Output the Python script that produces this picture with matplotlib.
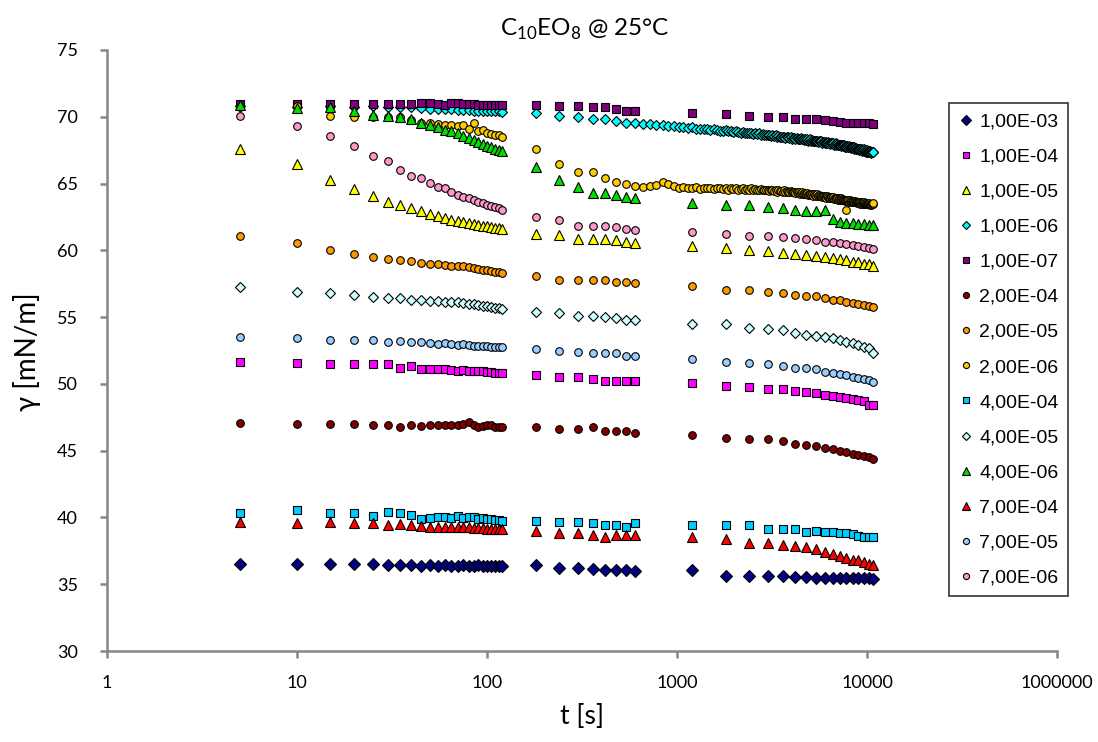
import matplotlib
matplotlib.use("Agg")
import matplotlib.pyplot as plt
from matplotlib.ticker import FixedLocator, FixedFormatter, NullLocator

plt.rcParams["mathtext.fontset"] = "custom"
plt.rcParams["mathtext.rm"] = "Lato"

# measurement times [s]
t_fast = list(range(5, 125, 5))           # every 5 s up to 2 min
t_mid = list(range(180, 660, 60))         # every minute up to 10 min
t_slow = list(range(1200, 11400, 600))    # every 10 min up to 3 h
t_dense = list(range(540, 10860, 60))     # continuous logging runs

# surface tension [mN/m]
g_1e3 = [36.5, 36.5, 36.5, 36.5, 36.5, 36.45, 36.45, 36.45, 36.4, 36.45, 36.4, 36.45,
         36.4, 36.4, 36.45, 36.4, 36.4, 36.45, 36.4, 36.4, 36.4, 36.4, 36.4, 36.4,
         36.45, 36.2, 36.2, 36.15, 36.1, 36.1, 36.05, 36.0,
         36.05, 35.65, 35.65, 35.6, 35.6, 35.55, 35.55, 35.5, 35.5, 35.5, 35.5, 35.45,
         35.5, 35.45, 35.45, 35.5, 35.4]
g_1e4 = [51.65, 51.6, 51.5, 51.5, 51.5, 51.5, 51.2, 51.35, 51.1, 51.15, 51.1, 51.1,
         51.05, 51.0, 51.05, 51.0, 51.0, 50.95, 50.95, 50.9, 50.9, 50.8, 50.8, 50.8,
         50.7, 50.55, 50.55, 50.35, 50.25, 50.25, 50.25, 50.25,
         50.1, 49.85, 49.8, 49.6, 49.6, 49.5, 49.4, 49.3, 49.2, 49.1, 49.0, 48.95,
         48.9, 48.8, 48.7, 48.45, 48.4]
g_1e5 = [67.6, 66.45, 65.3, 64.6, 64.1, 63.6, 63.4, 63.2, 62.95, 62.75, 62.55, 62.45,
         62.3, 62.2, 62.15, 62.05, 62.0, 61.9, 61.85, 61.8, 61.75, 61.7, 61.65, 61.6,
         61.2, 61.15, 60.85, 60.85, 60.85, 60.8, 60.6, 60.55,
         60.3, 60.15, 60.05, 59.95, 59.8, 59.75, 59.65, 59.6, 59.5, 59.45, 59.35, 59.3,
         59.15, 59.1, 59.0, 58.95, 58.85]
g_1e6 = [70.8, 70.75, 70.8, 70.75, 70.8, 70.75, 70.7, 70.7, 70.65, 70.6, 70.6, 70.55,
         70.55, 70.5, 70.5, 70.5, 70.45, 70.45, 70.45, 70.4, 70.4, 70.4, 70.4, 70.35,
         70.25, 70.05, 69.95, 69.8, 69.8, 69.7,
         69.55, 69.5, 69.45, 69.45, 69.35, 69.4, 69.3, 69.3, 69.2, 69.2,
         69.15, 69.2, 69.1, 69.1, 69.05, 69.1, 69.0, 69.05, 69.0, 68.95,
         68.95, 69.0, 68.9, 68.95, 68.85, 68.9, 68.85, 68.8, 68.85, 68.8,
         68.8, 68.75, 68.8, 68.7, 68.75, 68.7, 68.75, 68.65, 68.7, 68.65,
         68.65, 68.6, 68.65, 68.55, 68.6, 68.55, 68.6, 68.5, 68.55, 68.5,
         68.5, 68.45, 68.5, 68.4, 68.45, 68.5, 68.4, 68.45, 68.35, 68.4,
         68.4, 68.35, 68.4, 68.3, 68.35, 68.3, 68.4, 68.3, 68.35, 68.25,
         68.3, 68.25, 68.3, 68.2, 68.25, 68.3, 68.2, 68.25, 68.15, 68.2,
         68.2, 68.15, 68.2, 68.1, 68.2, 68.15, 68.1, 68.15, 68.05, 68.1,
         68.1, 68.05, 68.1, 68.0, 68.05, 68.1, 68.0, 68.05, 67.95, 68.0,
         68.0, 67.95, 68.0, 67.9, 67.95, 68.0, 67.9, 67.95, 67.85, 67.9,
         67.9, 67.85, 67.9, 67.8, 67.85, 67.9, 67.8, 67.85, 67.75, 67.8,
         67.8, 67.75, 67.8, 67.7, 67.75, 67.8, 67.7, 67.75, 67.65, 67.7,
         67.7, 67.65, 67.7, 67.6, 67.7, 67.65, 67.6, 67.65, 67.55, 67.6,
         67.6, 67.55, 67.6, 67.5, 67.55, 67.6, 67.5, 67.55, 67.45, 67.5,
         67.5, 67.45, 67.55, 67.45, 67.5, 67.4, 67.45, 67.5, 67.4, 67.45,
         67.4, 67.45, 67.35, 67.4, 67.45, 67.35, 67.4, 67.3, 67.35, 67.4,
         67.35, 67.4]
g_1e7 = [70.95, 70.95, 70.95, 70.95, 70.95, 70.95, 70.95, 70.95, 71.05, 71.0, 70.95, 70.9,
         71.05, 71.0, 70.95, 70.95, 70.95, 70.9, 70.9, 70.9, 70.9, 70.9, 70.9, 70.9,
         70.85, 70.8, 70.8, 70.7, 70.7, 70.6, 70.45, 70.45,
         70.25, 70.2, 70.05, 69.95, 69.95, 69.8, 69.8, 69.8, 69.75, 69.7, 69.6, 69.55,
         69.55, 69.5, 69.5, 69.5, 69.45]
g_2e4 = [47.1, 47.0, 47.0, 47.0, 46.95, 46.95, 46.75, 46.9, 46.85, 46.95, 46.9, 46.95,
         46.9, 46.9, 47.0, 47.15, 46.9, 46.75, 46.85, 46.9, 46.95, 46.8, 46.75, 46.75,
         46.8, 46.6, 46.6, 46.75, 46.45, 46.45, 46.45, 46.35,
         46.2, 45.95, 45.85, 45.85, 45.7, 45.5, 45.45, 45.35, 45.2, 45.1, 44.95, 44.9,
         44.75, 44.7, 44.6, 44.5, 44.4]
g_2e5 = [61.05, 60.55, 60.0, 59.75, 59.5, 59.35, 59.3, 59.2, 59.05, 58.95, 58.95, 58.9,
         58.85, 58.85, 58.8, 58.75, 58.7, 58.6, 58.55, 58.5, 58.45, 58.4, 58.35, 58.3,
         58.1, 57.8, 57.8, 57.75, 57.75, 57.6, 57.6, 57.55,
         57.35, 57.0, 57.0, 56.9, 56.8, 56.65, 56.6, 56.55, 56.45, 56.3, 56.25, 56.1,
         56.05, 56.0, 55.9, 55.85, 55.75]
g_2e6 = [70.7, 70.8, 70.05, 70.0, 70.0, 70.0, 69.95, 69.75, 69.5, 69.55, 69.45, 69.4,
         69.4, 69.3, 69.4, 69.1, 69.5, 68.95, 69.0, 68.8, 68.7, 68.65, 68.6, 68.5,
         67.6, 66.45, 65.85, 65.85, 65.4, 65.1,
         65.0, 64.8, 64.75, 64.8, 64.9, 65.1, 64.95, 64.8, 64.7, 64.75,
         64.7, 64.65, 64.75, 64.6, 64.7, 64.65, 64.7, 64.6, 64.65, 64.7,
         64.6, 64.65, 64.55, 64.65, 64.6, 64.7, 64.55, 64.6, 64.65, 64.55,
         64.6, 64.55, 64.65, 64.5, 64.6, 64.55, 64.5, 64.6, 64.5, 64.55,
         64.5, 64.55, 64.45, 64.5, 64.55, 64.45, 64.5, 64.4, 64.5, 64.45,
         64.45, 64.4, 64.5, 64.4, 64.45, 64.35, 64.4, 64.45, 64.35, 64.4,
         64.35, 64.3, 64.4, 64.3, 64.35, 64.25, 64.3, 64.35, 64.25, 64.3,
         64.25, 64.2, 64.3, 64.15, 64.25, 64.2, 64.15, 64.2, 64.1, 64.2,
         64.15, 64.1, 64.2, 64.05, 64.15, 64.1, 64.05, 64.1, 64.0, 64.1,
         64.05, 64.0, 64.1, 63.95, 64.05, 64.0, 63.95, 64.0, 63.9, 64.0,
         63.95, 63.9, 64.0, 63.85, 63.95, 63.9, 63.85, 63.9, 63.8, 63.9,
         63.85, 63.8, 63.9, 63.75, 63.85, 63.8, 63.75, 63.8, 63.7, 63.8,
         63.75, 63.0, 63.8, 63.7, 63.75, 63.65, 63.7, 63.75, 63.65, 63.7,
         63.7, 63.65, 63.7, 63.6, 63.65, 63.7, 63.6, 63.65, 63.55, 63.6,
         63.6, 63.65, 63.55, 63.6, 63.5, 63.6, 63.55, 63.6, 63.5, 63.55,
         63.55, 63.5, 63.6, 63.5, 63.55, 63.45, 63.55, 63.5, 63.45, 63.5,
         63.5, 63.45, 63.55, 63.4, 63.5, 63.45, 63.5, 63.4, 63.5, 63.45,
         63.5, 63.55]
g_4e4 = [40.3, 40.55, 40.35, 40.35, 40.1, 40.4, 40.35, 40.2, 39.9, 39.95, 40.0, 40.05,
         39.95, 40.1, 39.95, 40.0, 40.05, 39.9, 39.95, 39.85, 39.85, 39.8, 39.8, 39.75,
         39.75, 39.65, 39.65, 39.6, 39.45, 39.45, 39.3, 39.6,
         39.45, 39.45, 39.45, 39.15, 39.15, 39.15, 38.9, 38.95, 38.9, 38.9, 38.8, 38.8,
         38.75, 38.6, 38.5, 38.5, 38.55]
g_4e5 = [57.25, 56.9, 56.8, 56.65, 56.5, 56.45, 56.4, 56.3, 56.3, 56.2, 56.2, 56.15,
         56.1, 56.1, 56.05, 56.0, 55.95, 55.9, 55.85, 55.8, 55.75, 55.7, 55.65, 55.6,
         55.4, 55.3, 55.1, 55.1, 55.0, 54.95, 54.8, 54.8,
         54.5, 54.5, 54.2, 54.1, 54.05, 53.8, 53.65, 53.6, 53.5, 53.45, 53.3, 53.15,
         53.05, 52.9, 52.75, 52.65, 52.3]
g_4e6 = [70.9, 70.65, 70.75, 70.4, 70.15, 70.05, 70.0, 69.8, 69.5, 69.4, 69.25, 69.0,
         68.9, 68.8, 68.55, 68.4, 68.25, 68.1, 67.95, 67.8, 67.7, 67.6, 67.5, 67.45,
         66.25, 65.25, 64.75, 64.3, 64.3, 64.15, 64.0, 63.9,
         63.55, 63.4, 63.4, 63.25, 63.2, 63.0, 62.95, 62.95, 63.0, 62.35, 62.1, 62.05,
         62.05, 62.0, 62.0, 61.9, 61.9]
g_7e4 = [39.65, 39.6, 39.65, 39.6, 39.6, 39.45, 39.5, 39.45, 39.35, 39.3, 39.3, 39.3,
         39.3, 39.25, 39.25, 39.25, 39.2, 39.2, 39.2, 39.15, 39.15, 39.15, 39.1, 39.1,
         38.95, 38.85, 38.85, 38.7, 38.55, 38.7, 38.7, 38.7,
         38.5, 38.35, 38.1, 38.1, 37.9, 37.85, 37.75, 37.6, 37.4, 37.3, 37.1, 37.0,
         36.85, 36.8, 36.7, 36.5, 36.45]
g_7e5 = [53.5, 53.4, 53.3, 53.3, 53.3, 53.15, 53.2, 53.15, 53.1, 53.05, 53.0, 53.05,
         52.95, 52.9, 52.95, 52.9, 52.85, 52.85, 52.8, 52.8, 52.75, 52.75, 52.75, 52.75,
         52.6, 52.5, 52.4, 52.3, 52.3, 52.3, 52.1, 52.1,
         51.85, 51.65, 51.6, 51.5, 51.35, 51.2, 51.2, 51.1, 50.9, 50.8, 50.75, 50.7,
         50.55, 50.45, 50.4, 50.3, 50.15]
g_7e6 = [70.05, 69.3, 68.55, 67.8, 67.05, 66.7, 66.0, 65.55, 65.4, 65.05, 64.75, 64.65,
         64.4, 64.15, 64.0, 63.9, 63.8, 63.6, 63.55, 63.4, 63.35, 63.25, 63.2, 63.0,
         62.5, 62.3, 61.85, 61.85, 61.8, 61.75, 61.6, 61.55,
         61.4, 61.2, 61.1, 61.1, 61.0, 60.95, 60.85, 60.8, 60.65, 60.6, 60.55, 60.5,
         60.4, 60.35, 60.25, 60.2, 60.1]

t_regular = t_fast + t_mid + t_slow
t_logged = t_fast + t_mid[:6] + t_dense

# label, times, values, marker, size, face colour
series = [
    ("1,00E-03", t_regular, g_1e3, "D", 6.0, "#000080"),
    ("1,00E-04", t_regular, g_1e4, "s", 5.5, "#FF00FF"),
    ("1,00E-05", t_regular, g_1e5, "^", 7.8, "#FFFF00"),
    ("1,00E-06", t_logged, g_1e6, "D", 5.0, "#00FFFF"),
    ("1,00E-07", t_regular, g_1e7, "s", 5.5, "#800080"),
    ("2,00E-04", t_regular, g_2e4, "o", 5.5, "#800000"),
    ("2,00E-05", t_regular, g_2e5, "o", 5.5, "#FF9900"),
    ("2,00E-06", t_logged, g_2e6, "o", 5.5, "#FFCC00"),
    ("4,00E-04", t_regular, g_4e4, "s", 5.5, "#00CCFF"),
    ("4,00E-05", t_regular, g_4e5, "D", 5.2, "#CCFFFF"),
    ("4,00E-06", t_regular, g_4e6, "^", 7.8, "#00DD00"),
    ("7,00E-04", t_regular, g_7e4, "^", 7.8, "#FF0000"),
    ("7,00E-05", t_regular, g_7e5, "o", 5.5, "#99CCFF"),
    ("7,00E-06", t_regular, g_7e6, "o", 5.5, "#FF99CC"),
]

fig = plt.figure(figsize=(10.98, 7.42), dpi=100)
ax = fig.add_axes([107 / 1098, 1 - 651 / 742, 950 / 1098, 601 / 742])

handles = []
for i, (label, t, g, marker, ms, color) in enumerate(series):
    h, = ax.plot(t, g, linestyle="none", marker=marker, markersize=ms,
                 markerfacecolor=color, markeredgecolor="black",
                 markeredgewidth=0.8, label=label, zorder=3 + i, clip_on=False)
    handles.append(h)

ax.set_xscale("log")
ax.set_xlim(1, 1e5)
ax.set_ylim(30, 75)

ax.xaxis.set_major_locator(FixedLocator([1, 10, 100, 1000, 10000, 100000]))
ax.xaxis.set_major_formatter(FixedFormatter(["1", "10", "100", "1000", "10000", "1000000"]))
ax.xaxis.set_minor_locator(NullLocator())
ax.set_yticks(range(30, 80, 5))
for lab in ax.get_xticklabels() + ax.get_yticklabels():
    lab.set_fontfamily("Lato")
    lab.set_fontsize(13)

for side in ["top", "right"]:
    ax.spines[side].set_visible(False)
for side in ["left", "bottom"]:
    ax.spines[side].set_color("#868686")
    ax.spines[side].set_linewidth(1.8)
ax.tick_params(direction="out", length=5, width=1.8, color="#868686",
               labelcolor="black", pad=12)
ax.tick_params(axis="y", pad=16)

fig.text(585 / 1098, 1 - 29 / 742, r"C$_{\mathrm{10}}$EO$_{\mathrm{8}}$ @ 25°C",
         ha="center", va="center", family="Lato", fontsize=17.5)
fig.text(582 / 1098, 1 - 716 / 742, "t [s]", ha="center", va="center",
         family="Lato", fontsize=19)
fig.text(27 / 1098, 1 - 352 / 742, "γ [mN/m]", ha="center", va="center",
         rotation=90, family=["Lato", "DejaVu Serif"], fontsize=20)

leg = fig.legend(handles=handles, loc="upper left",
                 bbox_to_anchor=(949 / 1098, 1 - 103 / 742),
                 prop={"family": "Liberation Sans", "size": 14},
                 frameon=True, fancybox=False, edgecolor="black",
                 borderaxespad=0, labelspacing=0.9, borderpad=0.5,
                 handlelength=0.7, handletextpad=0.35, markerscale=0.8,
                 numpoints=1)
leg.get_frame().set_linewidth(1.2)

fig.savefig("out.png", dpi=100)
